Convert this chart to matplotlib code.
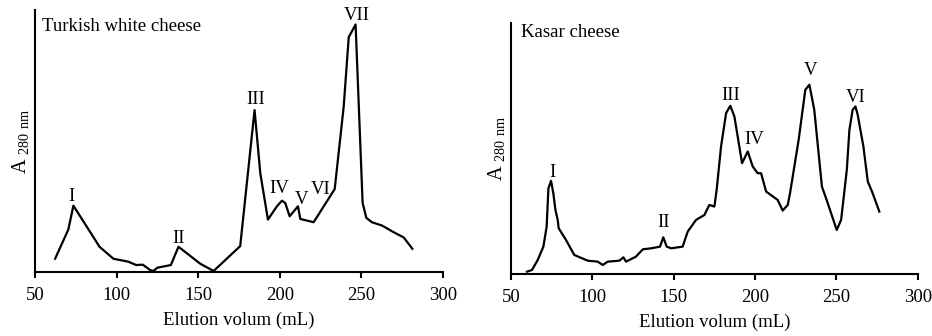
import numpy as np
import matplotlib.pyplot as plt

plt.rcParams["font.family"] = ["Liberation Serif", "DejaVu Serif"]
plt.rcParams["mathtext.fontset"] = "custom"
plt.rcParams["mathtext.rm"] = "Liberation Serif"

# Turkish white cheese (arbitrary absorbance units)
white_x = [62.3, 70.4, 73.5, 89.5, 98.0, 107.2, 111.9, 116.0, 120.5, 122.5, 125.0,
           133.2, 137.9, 151.2, 159.4, 175.7, 184.5, 188.0, 192.7, 198.2, 201.3,
           203.3, 206.0, 211.1, 212.5, 220.7, 233.6, 239.1, 242.2, 246.4, 250.7,
           253.0, 256.4, 262.6, 269.7, 275.9, 281.2]
white_y = [40, 128, 200, 76, 40, 31, 21, 22, 6, 3, 13,
           21, 76, 25, 3, 78, 488, 298, 158, 198, 215,
           208, 168, 198, 160, 150, 250, 498, 708, 746, 208,
           163, 150, 140, 120, 104, 70]
white_peaks = ["I", "II", "III", "IV", "V", "VI", "VII"]
white_peak_x = [72.5, 137.9, 184.9, 199.8, 213.5, 224.8, 247.2]
white_peak_y = [228, 100, 520, 253, 218, 248, 773]

# Kasar cheese
kasar_x = [59.8, 62.9, 66.4, 69.9, 71.9, 73.0, 74.6, 76.0, 77.3, 78.7, 79.3,
           83.8, 88.9, 97.1, 103.3, 106.4, 109.4, 116.6, 119.1, 120.7, 126.8,
           131.0, 136.1, 141.6, 143.6, 145.7, 148.4, 155.5, 158.6, 163.7, 168.9,
           171.9, 175.0, 176.4, 179.1, 182.2, 184.8, 187.3, 190.0, 192.0, 195.5,
           198.6, 201.6, 203.7, 206.8, 213.9, 217.0, 220.1, 221.5, 226.8, 230.9,
           233.4, 236.4, 241.1, 244.0, 250.2, 252.9, 256.4, 258.0, 260.0, 261.7,
           263.1, 266.6, 269.3, 271.9, 276.4]
kasar_y = [7, 12, 42, 82, 142, 257, 279, 242, 192, 162, 137,
           102, 57, 40, 37, 27, 37, 40, 50, 37, 52,
           74, 77, 82, 110, 82, 77, 82, 127, 162, 177,
           207, 202, 252, 382, 482, 504, 472, 392, 332, 367,
           322, 302, 302, 247, 222, 190, 207, 242, 402, 552,
           567, 492, 262, 222, 132, 162, 312, 432, 492, 502,
           477, 382, 277, 247, 187]
kasar_peaks = ["I", "II", "III", "IV", "V", "VI"]
kasar_peak_x = [75.2, 143.6, 184.8, 199.6, 234.0, 261.7]
kasar_peak_y = [304, 154, 535, 402, 609, 530]

fig = plt.figure(figsize=(9.32, 3.36), dpi=100)
ax1 = fig.add_axes([0.0376, 0.1905, 0.4378, 0.780])
ax2 = fig.add_axes([0.5483, 0.1845, 0.4364, 0.747])

panels = [
    (ax1, white_x, white_y, white_peaks, white_peak_x, white_peak_y,
     "Turkish white cheese", 790, (0.017, 0.935)),
    (ax2, kasar_x, kasar_y, kasar_peaks, kasar_peak_x, kasar_peak_y,
     "Kasar cheese", 752, (0.025, 0.964)),
]

fs = 13.5
for ax, x, y, names, px, py, title, ytop, tpos in panels:
    ax.plot(x, y, color="black", lw=1.6)
    for n, a, b in zip(names, px, py):
        ax.text(a, b, n, ha="center", va="center", fontsize=fs)
    ax.text(tpos[0], tpos[1], title, transform=ax.transAxes,
            ha="left", va="center", fontsize=fs)
    ax.set_xlim(50, 300)
    ax.set_ylim(0, ytop)
    ax.set_xticks([50, 100, 150, 200, 250, 300])
    ax.set_yticks([])
    for s in ("top", "right"):
        ax.spines[s].set_visible(False)
    for s in ("left", "bottom"):
        ax.spines[s].set_linewidth(1.5)
    ax.tick_params(axis="x", direction="out", length=4, width=1.5,
                   labelsize=fs, pad=7)
    ax.set_xlabel("Elution volum (mL)", fontsize=fs, labelpad=5)
    ax.set_ylabel(r"A $_{\mathregular{280\ nm}}$", fontsize=14.5, labelpad=2)

fig.savefig("out.png", dpi=100)
